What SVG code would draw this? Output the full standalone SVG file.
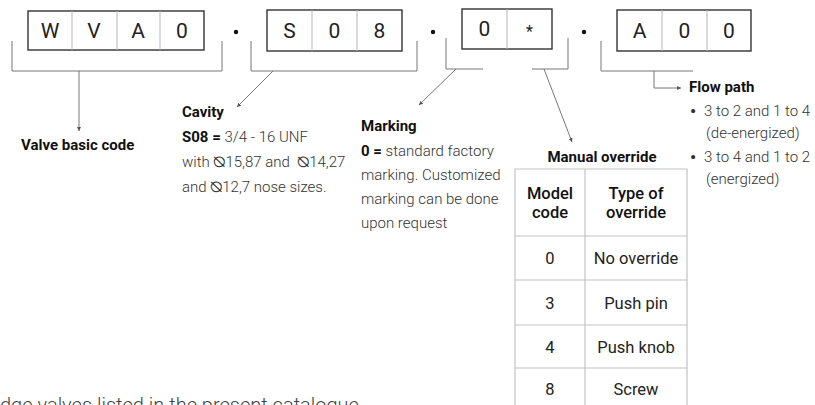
<svg xmlns="http://www.w3.org/2000/svg" width="815" height="405" viewBox="0 0 815 405">
<style>
text{font-family:Roboto,"Liberation Sans",sans-serif;}
.box{fill:#fff;stroke:#333;stroke-width:1.4;}
.div{stroke:#b5b5b5;stroke-width:1;}
.ch{font-size:21px;fill:#222;text-anchor:middle;}
.dot{fill:#111;}
.br{fill:none;stroke:#777;stroke-width:1;}
.b{font-size:15px;font-weight:700;fill:#111;}
.t{font-size:15px;font-weight:300;fill:#333;white-space:pre;}
.tb{font-weight:700;fill:#111;}
.bul{font-size:17px;font-weight:700;fill:#333;}
.tab{stroke:#c4c4c4;stroke-width:1.2;fill:none;}
.th{font-size:16.5px;font-weight:500;fill:#111;text-anchor:middle;}
.td{font-size:16.5px;font-weight:400;fill:#222;text-anchor:middle;}
.bottom{font-size:20px;font-weight:300;fill:#444;}
</style>
<defs>
<marker id="ah" viewBox="0 0 6 6" refX="6" refY="3" markerWidth="4" markerHeight="4" orient="auto" markerUnits="userSpaceOnUse">
<path d="M0,0 L6,3 L0,6 z" fill="#555"/>
</marker>
</defs>

<g id="code-wva0">
<rect class="box" x="28" y="11" width="176" height="39"/>
<line class="div" x1="72" y1="11" x2="72" y2="50"/>
<line class="div" x1="117" y1="11" x2="117" y2="50"/>
<line class="div" x1="160" y1="11" x2="160" y2="50"/>
<text class="ch" x="50" y="38">W</text>
<text class="ch" x="94" y="38">V</text>
<text class="ch" x="138" y="38">A</text>
<text class="ch" x="182" y="38">0</text>
</g>
<circle class="dot" cx="236" cy="32" r="2.2"/>

<g id="code-s08">
<rect class="box" x="267" y="10" width="135" height="41"/>
<line class="div" x1="312" y1="10" x2="312" y2="51"/>
<line class="div" x1="357" y1="10" x2="357" y2="51"/>
<text class="ch" x="289.5" y="38">S</text>
<text class="ch" x="334.5" y="38">0</text>
<text class="ch" x="379.5" y="38">8</text>
</g>
<circle class="dot" cx="433" cy="32" r="2.2"/>

<g id="code-0star">
<rect class="box" x="462" y="9" width="90" height="40"/>
<line class="div" x1="507" y1="9" x2="507" y2="49"/>
<text class="ch" x="484.5" y="36">0</text>
<text class="ch" x="529.5" y="37" style="font-size:16px">*</text>
</g>
<circle class="dot" cx="584" cy="32" r="2.2"/>

<g id="code-a00">
<rect class="box" x="617" y="10" width="134" height="41"/>
<line class="div" x1="662" y1="10" x2="662" y2="51"/>
<line class="div" x1="707" y1="10" x2="707" y2="51"/>
<text class="ch" x="639.5" y="38">A</text>
<text class="ch" x="684.5" y="38">0</text>
<text class="ch" x="729" y="38">0</text>
</g>

<g id="connectors">
<path class="br" d="M12,41 V71 H222 V41"/>
<line class="br" x1="79" y1="71" x2="79" y2="131" marker-end="url(#ah)"/>
<path class="br" d="M251,41 V71 H417 V41"/>
<line class="br" x1="273" y1="71" x2="237" y2="107" marker-end="url(#ah)"/>
<path class="br" d="M446,38 V69 H483"/>
<line class="br" x1="456" y1="69" x2="419" y2="105" marker-end="url(#ah)"/>
<path class="br" d="M532,69 H568 V38"/>
<line class="br" x1="544" y1="69" x2="572" y2="142" marker-end="url(#ah)"/>
<path class="br" d="M601,41 V71 H693"/>
<path class="br" d="M654,71 V88 H681" marker-end="url(#ah)"/>
</g>

<g id="valve-basic-code">
<text class="b" x="21" y="150">Valve basic code</text>
</g>

<g id="cavity">
<text class="b" x="182" y="117">Cavity</text>
<text class="t" x="182" y="142"><tspan class="tb">S08 =</tspan> 3/4 - 16 UNF</text>
<text class="t" x="182" y="167">with ⦰15,87 and  ⦰14,27</text>
<text class="t" x="182" y="192">and ⦰12,7 nose sizes.</text>
</g>

<g id="marking">
<text class="b" x="361" y="131">Marking</text>
<text class="t" x="361" y="156"><tspan class="tb">0 =</tspan> standard factory</text>
<text class="t" x="361" y="180">marking. Customized</text>
<text class="t" x="361" y="204">marking can be done</text>
<text class="t" x="361" y="228">upon request</text>
</g>

<g id="manual-override">
<text class="b" x="602" y="162" text-anchor="middle">Manual override</text>
<path class="tab" d="M515,420 V169 H687 V420"/>
<line class="tab" x1="585" y1="169" x2="585" y2="420"/>
<line class="tab" x1="515" y1="236" x2="687" y2="236"/>
<line class="tab" x1="515" y1="280" x2="687" y2="280"/>
<line class="tab" x1="515" y1="325" x2="687" y2="325"/>
<line class="tab" x1="515" y1="368" x2="687" y2="368"/>
<text class="th" x="550" y="199">Model</text>
<text class="th" x="550" y="218">code</text>
<text class="th" x="636" y="199">Type of</text>
<text class="th" x="636" y="218">override</text>
<text class="td" x="550" y="264">0</text>
<text class="td" x="636" y="264">No override</text>
<text class="td" x="550" y="309">3</text>
<text class="td" x="636" y="309">Push pin</text>
<text class="td" x="550" y="353">4</text>
<text class="td" x="636" y="353">Push knob</text>
<text class="td" x="550" y="395">8</text>
<text class="td" x="636" y="395">Screw</text>
</g>

<g id="flow-path">
<text class="b" x="689" y="92">Flow path</text>
<text class="bul" x="690" y="117">•</text>
<text class="t" x="704" y="116">3 to 2 and 1 to 4</text>
<text class="t" x="706" y="138">(de-energized)</text>
<text class="bul" x="690" y="163">•</text>
<text class="t" x="704" y="162">3 to 4 and 1 to 2</text>
<text class="t" x="706" y="184">(energized)</text>
</g>

<text class="bottom" x="0" y="412">dge valves listed in the present catalogue</text>
</svg>
